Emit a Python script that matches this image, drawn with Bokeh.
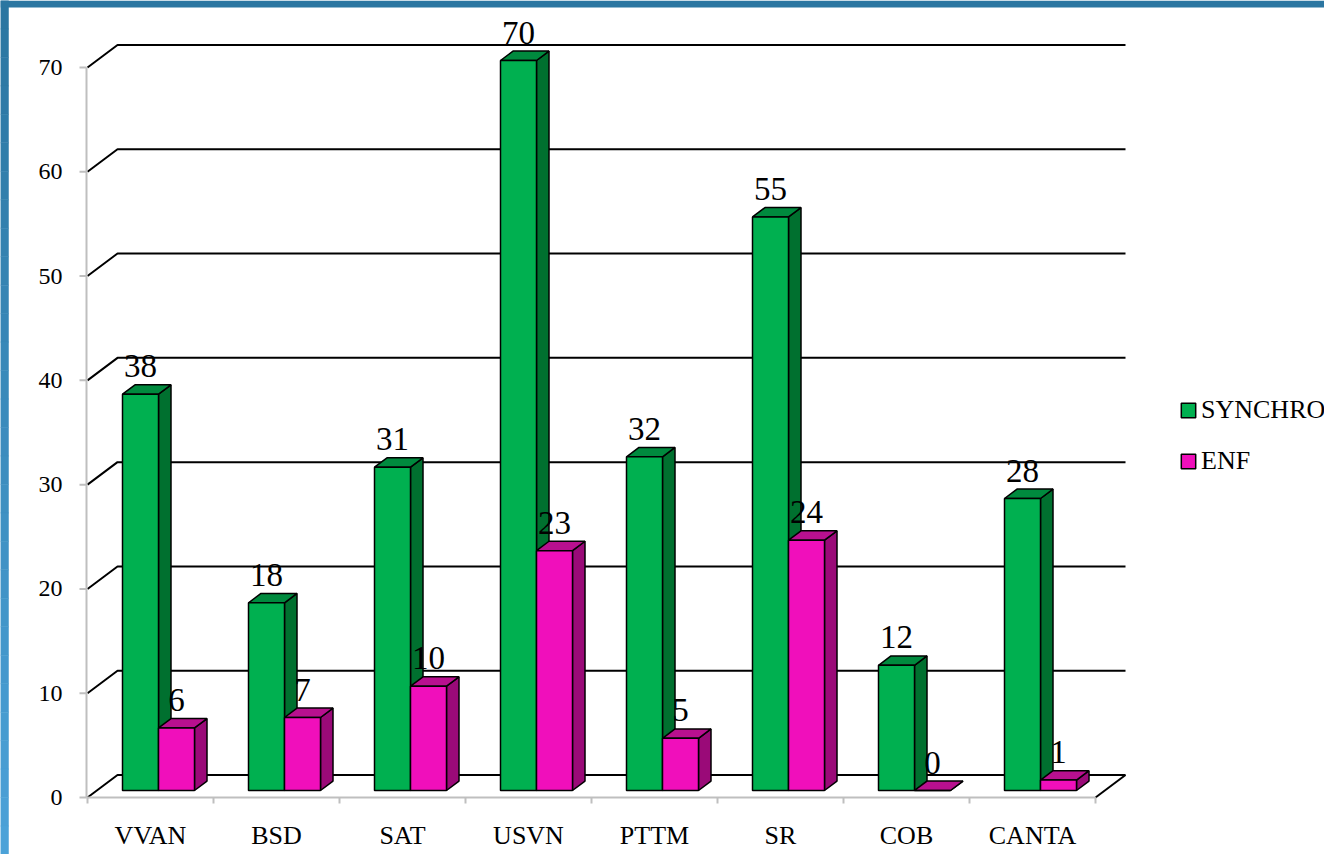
from bokeh.plotting import figure
from bokeh.models import Range1d, Legend, LegendItem
from bokeh.core.properties import value
from bokeh.embed import file_html
from bokeh.resources import INLINE

# ---------------- data ----------------
categories = ["VVAN", "BSD", "SAT", "USVN", "PTTM", "SR", "COB", "CANTA"]
synchro = [38, 18, 31, 70, 32, 55, 12, 28]
enf = [6, 7, 10, 23, 5, 24, 0, 1]
series_names = ["SYNCHRO", "ENF"]
y_ticks = [0, 10, 20, 30, 40, 50, 60, 70]
y_tick_labels = ["0", "10", "20", "30", "40", "50", "60", "70"]

# ---------------- styling / geometry ----------------
FRONT = ["#00B050", "#F00FBB"]
TOP = ["#008A3E", "#B8108F"]
SIDE = ["#00702F", "#9A0A78"]
AXIS_GRAY = "#BFBFBF"
FONT = "Liberation Serif"

W, H = 1324, 854
X0_PX, Y0_PX = 87.0, 797.0     # where category 0 / value 0 sit
XPX = 126.0                    # px per category
YPX = 730.0 / 70.0             # px per unit value

DX = 30.0 / XPX                # back wall depth offset
DY = 22.5 / YPX
FX = 9.0 / XPX                 # bar front depth offset
FY = 7.0 / YPX
BDX = 12.5 / XPX               # bar depth
BDY = 9.4 / YPX
GAP = 26.0 / XPX
BW = 36.0 / XPX

xs_ = -X0_PX / XPX
ys_ = -(H - Y0_PX) / YPX
p = figure(width=W, height=H, output_backend="svg", toolbar_location=None,
           x_range=Range1d(xs_, xs_ + W / XPX),
           y_range=Range1d(ys_, ys_ + H / YPX),
           x_axis_location=None, y_axis_location=None,
           min_border=0, min_border_left=0, min_border_right=0,
           min_border_top=0, min_border_bottom=0)
p.outline_line_color = None
p.xgrid.visible = False
p.ygrid.visible = False
p.background_fill_color = "white"
p.border_fill_color = "white"

n = len(categories)
x_lo, x_hi = xs_, xs_ + W / XPX
y_lo, y_hi = ys_, ys_ + H / YPX

# ---------------- slide frame (blue strips) ----------------
def mix(c1, c2, t):
    a = [int(c1[i:i + 2], 16) for i in (1, 3, 5)]
    b = [int(c2[i:i + 2], 16) for i in (1, 3, 5)]
    return "#%02x%02x%02x" % tuple(round(a[k] + (b[k] - a[k]) * t) for k in range(3))

NB = 30
lb, rt, tp, bt, cl = [], [], [], [], []
for k in range(NB):
    t0 = k / NB
    lb.append(x_lo)
    rt.append(x_lo + 8.0 / XPX)
    tp.append(y_hi - (H * t0) / YPX)
    bt.append(y_hi - (H * (k + 1) / NB) / YPX)
    cl.append(mix("#2B76A1", "#4CA3DA", t0))
p.quad(left=lb, right=rt, top=tp, bottom=bt, fill_color=cl, line_color=cl, line_width=0.5)
p.quad(left=[x_lo], right=[x_hi], top=[y_hi], bottom=[y_hi - 7.0 / YPX],
       fill_color="#2B76A1", line_color=None)

# ---------------- back wall gridlines ----------------
gxs, gys = [], []
for v in y_ticks:
    gxs.append([0, DX, n + DX])
    gys.append([v, v + DY, v + DY])
gxs.append([n, n + DX])
gys.append([0, DY])
p.multi_line(gxs, gys, line_color="black", line_width=2)

# ---------------- axes (front) ----------------
p.segment(x0=[-1.0 / XPX], y0=[0], x1=[-1.0 / XPX], y1=[max(y_ticks)],
          line_color=AXIS_GRAY, line_width=2)
p.segment(x0=[-1.0 / XPX] * len(y_ticks), y0=y_ticks,
          x1=[-8.0 / XPX] * len(y_ticks), y1=y_ticks,
          line_color=AXIS_GRAY, line_width=2)
p.segment(x0=[-1.0 / XPX], y0=[0], x1=[n], y1=[0], line_color=AXIS_GRAY, line_width=2)
p.segment(x0=list(range(n + 1)), y0=[0] * (n + 1), x1=list(range(n + 1)),
          y1=[-6.0 / YPX] * (n + 1), line_color=AXIS_GRAY, line_width=2)
p.text(x=[-1.0 / XPX] * len(y_ticks), y=y_ticks, text=y_tick_labels,
       x_offset=-24, text_align="right", text_baseline="middle",
       text_font=value(FONT), text_font_size="24px", text_color="black")
p.text(x=[i + 0.5 for i in range(n)], y=[0] * n, text=categories,
       y_offset=38, text_align="center", text_baseline="middle",
       text_font=value(FONT), text_font_size="26px", text_color="black")

# ---------------- 3D bars ----------------
front_renderers = []
for s, vals in enumerate([synchro, enf]):
    sx, sy, tx, ty, fx, fy = [], [], [], [], [], []
    for i in range(n):
        v = vals[i]
        x0 = i + GAP + s * BW + FX
        x1 = x0 + BW
        y0 = FY
        y1 = v + FY
        sx.append([x1, x1 + BDX, x1 + BDX, x1])
        sy.append([y0, y0 + BDY, y1 + BDY, y1])
        tx.append([x0, x1, x1 + BDX, x0 + BDX])
        ty.append([y1, y1, y1 + BDY, y1 + BDY])
        fx.append([x0, x1, x1, x0])
        fy.append([y0, y0, y1, y1])
    p.patches(xs=sx, ys=sy, fill_color=SIDE[s], line_color="black", line_width=1.5)
    p.patches(xs=tx, ys=ty, fill_color=TOP[s], line_color="black", line_width=1.5)
    fr = p.patches(xs=fx, ys=fy, fill_color=FRONT[s], line_color="black", line_width=1.5)
    front_renderers.append(fr)

# ---------------- value labels ----------------
lx, ly, lt = [], [], []
for s, vals in enumerate([synchro, enf]):
    for i in range(n):
        v = vals[i]
        lx.append(i + GAP + s * BW + FX + BW / 2)
        ly.append(v + FY)
        lt.append(str(v))
p.text(x=lx, y=ly, text=lt, text_align="center", text_baseline="middle",
       y_offset=-28, text_font=value(FONT), text_font_size="33px", text_color="black")

# ---------------- legend ----------------
items = [LegendItem(label=name, renderers=[front_renderers[s]])
         for s, name in enumerate(series_names)]
legend = Legend(items=items, location=(1179, H - 476), orientation="vertical",
                glyph_width=18, glyph_height=18, label_height=28, spacing=21,
                label_standoff=4, padding=0, margin=0,
                border_line_color=None, background_fill_alpha=0,
                label_text_font=FONT, label_text_font_size="26px",
                label_text_color="black")
p.add_layout(legend)

open("out.html", "w").write(file_html(p, INLINE))
